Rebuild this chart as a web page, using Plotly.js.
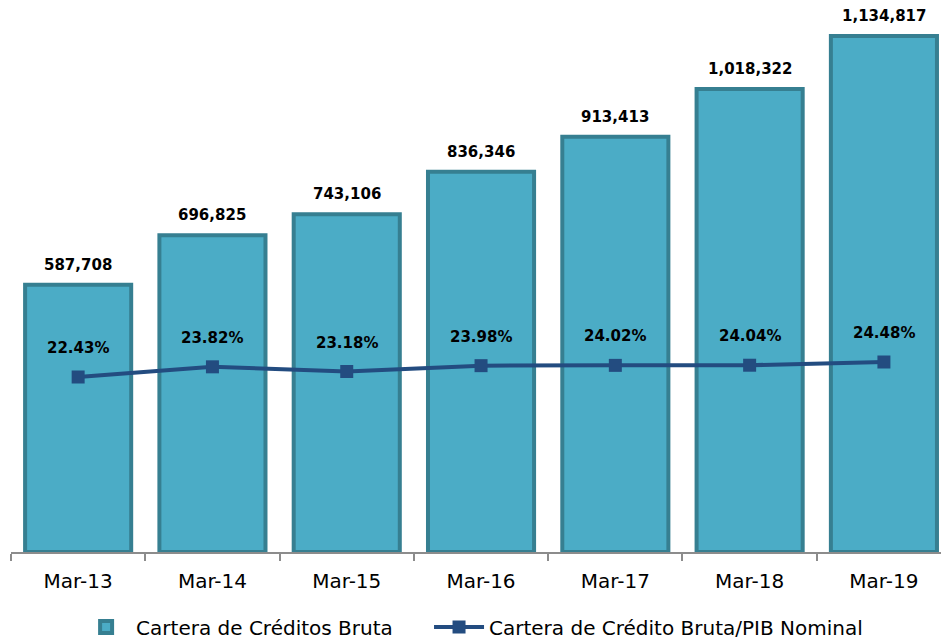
<!DOCTYPE html>
<html>
<head>
<meta charset="utf-8">
<script src="https://cdn.plot.ly/plotly-3.0.1.min.js"></script>
<style>html,body{margin:0;padding:0;background:#fff;}#chart{width:941px;height:641px;}</style>
</head>
<body>
<div id="chart"></div>
<script>
const categories = ["Mar-13","Mar-14","Mar-15","Mar-16","Mar-17","Mar-18","Mar-19"];
const cartera = [587708, 696825, 743106, 836346, 913413, 1018322, 1134817];
const ratio = [22.43, 23.82, 23.18, 23.98, 24.02, 24.04, 24.48];
const barLabels = ["587,708","696,825","743,106","836,346","913,413","1,018,322","1,134,817"];
const ratioLabels = ["22.43%","23.82%","23.18%","23.98%","24.02%","24.04%","24.48%"];

const baseFont = "DejaVu Sans, Century Gothic, sans-serif";

const traces = [
  {
    type: "bar", name: "Cartera de Créditos Bruta", legend: "legend",
    x: categories, y: cartera, width: 0.79,
    marker: {color: "#4BACC6", line: {color: "#367F91", width: 4}},
    hoverinfo: "skip"
  },
  {
    type: "scatter", mode: "lines+markers", name: "Cartera de Crédito Bruta/PIB Nominal", legend: "legend2",
    x: categories, y: ratio, yaxis: "y2",
    line: {color: "#234C80", width: 4},
    marker: {symbol: "square", size: 13, color: "#234C80"},
    hoverinfo: "skip"
  }
];

const annotations = [];
categories.forEach((c, i) => {
  annotations.push({x: c, y: cartera[i], xref: "x", yref: "y", text: barLabels[i],
    showarrow: false, yanchor: "middle", yshift: 20,
    font: {family: baseFont, size: 15, color: "#000", weight: "bold"}});
  annotations.push({x: c, y: ratio[i], xref: "x", yref: "y2", text: ratioLabels[i],
    showarrow: false, yanchor: "middle", yshift: 29,
    font: {family: baseFont, size: 15, color: "#000", weight: "bold"}});
});

const legendCommon = {
  orientation: "h", xanchor: "left", yref: "container", y: 0.022, yanchor: "middle",
  font: {family: baseFont, size: 20, color: "#000"}, itemwidth: 50, bgcolor: "rgba(0,0,0,0)"
};

const layout = {
  width: 941, height: 641,
  margin: {l: 11, r: 0, t: 0, b: 89, autoexpand: false},
  paper_bgcolor: "#fff", plot_bgcolor: "#fff",
  font: {family: baseFont, size: 20, color: "#000"},
  showlegend: true,
  bargap: 0.2,
  xaxis: {
    type: "category", range: [-0.5, 6.425],
    showline: true, linecolor: "#8C8C8C", linewidth: 2,
    ticks: "outside", tickson: "boundaries", ticklen: 7, tickcolor: "#8C8C8C", tickwidth: 2,
    ticklabelstandoff: 10,
    tickfont: {family: baseFont, size: 20, color: "#000"},
    showgrid: false, zeroline: false, fixedrange: true
  },
  yaxis: {range: [0, 1214200], visible: false, showgrid: false, zeroline: false},
  yaxis2: {range: [-1.49, 73.96], overlaying: "y", side: "right", visible: false, showgrid: false, zeroline: false},
  legend: Object.assign({}, legendCommon, {x: 0.07}),
  legend2: Object.assign({}, legendCommon, {x: 0.4495}),
  annotations: annotations
};

Plotly.newPlot("chart", traces, layout, {displayModeBar: false, staticPlot: true});
</script>
</body>
</html>
